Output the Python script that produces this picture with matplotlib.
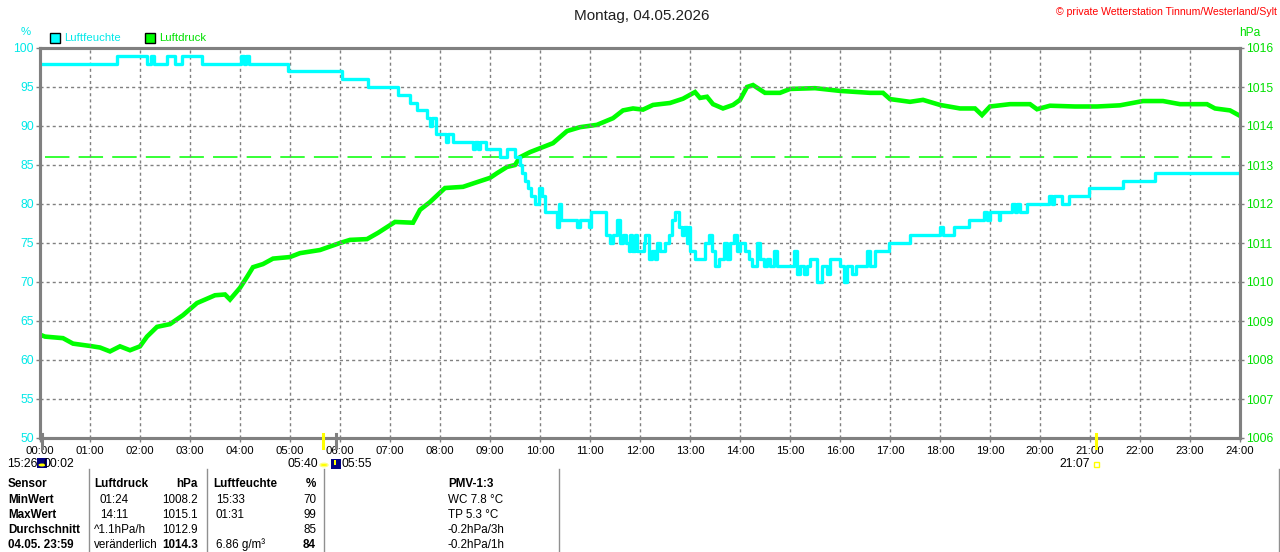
import matplotlib
matplotlib.use("Agg")
import matplotlib.pyplot as plt
from matplotlib.patches import Rectangle, Circle
import matplotlib.transforms as mtransforms

W, H = 1280, 552
plt.rcParams['font.family'] = ['Liberation Sans', 'DejaVu Sans']

# ---------------- data ----------------
hour_labels = [f"{h:02d}:00" for h in range(25)]
hum_ticks = [50, 55, 60, 65, 70, 75, 80, 85, 90, 95, 100]
hpa_ticks = [1006, 1007, 1008, 1009, 1010, 1011, 1012, 1013, 1014, 1015, 1016]

humidity_hours = [0.00, 1.54, 2.14, 2.22, 2.28, 2.54, 2.70, 2.84, 3.24, 4.02, 4.08, 4.12, 4.18,
                  4.96, 6.04, 6.56, 7.16, 7.40, 7.54, 7.74, 7.80, 7.84, 7.92, 8.12, 8.16, 8.26,
                  8.66, 8.70, 8.76, 8.80, 8.92, 9.20, 9.34, 9.50, 9.60, 9.64, 9.70, 9.76, 9.82,
                  9.90, 9.98, 10.03, 10.10, 10.34, 10.37, 10.42, 10.74, 10.80, 10.98, 11.02,
                  11.32, 11.40, 11.46, 11.54, 11.60, 11.66, 11.72, 11.78, 11.80, 11.83, 11.90,
                  11.93, 12.07, 12.10, 12.17, 12.23, 12.30, 12.33, 12.40, 12.50, 12.57, 12.63,
                  12.70, 12.77, 12.83, 12.87, 12.93, 12.97, 13.00, 13.10, 13.30, 13.37, 13.43,
                  13.50, 13.57, 13.67, 13.73, 13.80, 13.87, 13.93, 14.00, 14.10, 14.17, 14.23,
                  14.33, 14.40, 14.47, 14.53, 14.60, 14.67, 14.73, 15.07, 15.13, 15.20, 15.27,
                  15.33, 15.40, 15.53, 15.63, 15.73, 15.80, 16.00, 16.07, 16.13, 16.23, 16.33,
                  16.53, 16.60, 16.70, 16.97, 17.40, 18.00, 18.05, 18.27, 18.57, 18.87, 18.93,
                  19.00, 19.17, 19.20, 19.43, 19.50, 19.53, 19.60, 19.73, 20.17, 20.23, 20.27,
                  20.43, 20.57, 20.97, 21.65, 22.30, 24.00]
humidity_pct = [98, 99, 98, 99, 98, 99, 98, 99, 98, 99, 98, 99, 98,
                97, 96, 95, 94, 93, 92, 91, 90, 91, 89, 88, 89, 88,
                87, 88, 87, 88, 87, 86, 87, 86, 85, 84, 83, 82, 81,
                80, 82, 81, 79, 77, 80, 78, 77, 78, 77, 79,
                76, 75, 76, 78, 75, 76, 75, 74, 76, 74, 76,
                74, 75, 76, 73, 74, 73, 75, 74, 75, 76, 78,
                79, 77, 76, 77, 75, 77, 74, 73, 75, 76, 74,
                72, 73, 75, 73, 75, 76, 74, 75, 74, 73, 72,
                75, 73, 72, 73, 72, 74, 72, 74, 71, 72, 71,
                72, 73, 70, 72, 71, 73, 72, 70, 72, 71, 72,
                74, 72, 74, 75, 76, 77, 76, 77, 78, 79, 78,
                79, 78, 79, 80, 79, 80, 79, 80, 81, 80, 81,
                80, 81, 82, 83, 84, 84]

pressure_hours = [0.0, 0.1, 0.46, 0.66, 1.0, 1.2, 1.4, 1.6, 1.8, 2.0, 2.14, 2.34, 2.6, 2.86,
                  3.14, 3.5, 3.7, 3.8, 4.0, 4.14, 4.26, 4.46, 4.66, 5.0, 5.2, 5.6, 6.0, 6.2,
                  6.54, 6.76, 7.1, 7.46, 7.6, 7.8, 8.1, 8.46, 8.74, 9.0, 9.14, 9.34, 9.5, 9.6,
                  9.8, 10.0, 10.26, 10.54, 10.8, 11.14, 11.46, 11.66, 11.86, 12.06, 12.26,
                  12.6, 12.86, 13.1, 13.2, 13.34, 13.46, 13.66, 13.86, 14.0, 14.14, 14.26,
                  14.5, 14.8, 15.0, 15.5, 16.0, 16.6, 16.86, 17.0, 17.4, 17.66, 18.0, 18.4,
                  18.7, 18.84, 19.0, 19.4, 19.8, 19.94, 20.2, 20.7, 21.14, 21.6, 22.06,
                  22.46, 22.8, 23.34, 23.5, 23.8, 24.0]
pressure_hpa = [1008.65, 1008.6, 1008.56, 1008.42, 1008.36, 1008.32, 1008.22, 1008.35, 1008.25,
                1008.35, 1008.6, 1008.85, 1008.92, 1009.15, 1009.46, 1009.66, 1009.68, 1009.55,
                1009.85, 1010.13, 1010.38, 1010.46, 1010.6, 1010.64, 1010.74, 1010.82, 1011.0,
                1011.08, 1011.1, 1011.26, 1011.54, 1011.52, 1011.85, 1012.05, 1012.41, 1012.44,
                1012.56, 1012.67, 1012.79, 1012.95, 1013.0, 1013.2, 1013.33, 1013.43, 1013.56,
                1013.87, 1013.97, 1014.03, 1014.2, 1014.4, 1014.45, 1014.42, 1014.54, 1014.59,
                1014.7, 1014.87, 1014.72, 1014.75, 1014.56, 1014.45, 1014.54, 1014.67, 1015.0,
                1015.05, 1014.85, 1014.85, 1014.95, 1014.97, 1014.9, 1014.85, 1014.85, 1014.69,
                1014.62, 1014.67, 1014.54, 1014.45, 1014.45, 1014.28, 1014.5, 1014.56, 1014.56,
                1014.43, 1014.52, 1014.5, 1014.5, 1014.53, 1014.64, 1014.64, 1014.56, 1014.56,
                1014.45, 1014.4, 1014.26]
avg_line_hpa = 1013.2

sun_marks = [5 + 40 / 60, 21 + 7 / 60]      # yellow markers
moon_marks = [0 + 2 / 60, 5 + 55 / 60]      # gray markers

title = "Montag, 04.05.2026"
copyright_text = "\u00a9 private Wetterstation Tinnum/Westerland/Sylt"

table_rows = [
    ["Sensor", "Luftdruck", "hPa", "Luftfeuchte", "%", "PMV-1:3"],
    ["MinWert", "01:24", "1008.2", "15:33", "70", "WC 7.8 \u00b0C"],
    ["MaxWert", "14:11", "1015.1", "01:31", "99", "TP 5.3 \u00b0C"],
    ["Durchschnitt", "^1.1hPa/h", "1012.9", "", "85", "-0.2hPa/3h"],
    ["04.05. 23:59", "ver\u00e4nderlich", "1014.3", "6.86 g/m\u00b3", "84", "-0.2hPa/1h"],
]

# ---------------- style ----------------
CYAN = "#00ffff"
GREEN = "#00ff00"
GREEN_TXT = "#00e000"
GRAY = "#808080"
FS = 8.2


def P(x, y):
    return (x / W, 1 - y / H)


fig = plt.figure(figsize=(W / 100, H / 100), dpi=100)
fig.patch.set_facecolor("white")

ax = fig.add_axes([40 / W, 1 - 438 / H, 1200 / W, 390 / H])
ax2 = ax.twinx()
ax.set_zorder(ax2.get_zorder() + 1)
ax.patch.set_visible(False)

ax.set_xlim(0, 24)
ax.set_ylim(50, 100)
ax2.set_ylim(1006, 1016)

# grid
for v in hum_ticks[1:-1]:
    ax.axhline(v, color=GRAY, lw=1, ls=(0, (2.2, 2.2)), zorder=0)
for h in range(1, 24):
    ax.axvline(h, color=GRAY, lw=1, ls=(0, (2.2, 2.2)), zorder=0)

# data
ax2.axhline(avg_line_hpa, xmin=0.004, xmax=0.992, color=GREEN, lw=1.1, ls=(0, (16, 6)))
ax2.plot(pressure_hours, pressure_hpa, color=GREEN, lw=3.3, solid_joinstyle="miter")
ax.plot(humidity_hours, humidity_pct, color=CYAN, lw=2.4, drawstyle="steps-post")

# spines
for a in (ax, ax2):
    for s in a.spines.values():
        s.set_color(GRAY)
        s.set_linewidth(2.2)

ax.set_xticks(range(25))
ax.set_xticklabels(hour_labels)
ax.set_yticks(hum_ticks)
ax.set_yticklabels([str(v) for v in hum_ticks])
ax2.set_yticks(hpa_ticks)
ax2.set_yticklabels([str(v) for v in hpa_ticks])
ax.tick_params(axis="x", colors=GRAY, labelcolor="black", labelsize=FS, length=3, width=1, pad=3)
ax.tick_params(axis="y", colors=GRAY, labelcolor="#00e8e8", labelsize=FS + 0.6, length=3, width=1, pad=1.5)
ax2.tick_params(axis="y", colors=GRAY, labelcolor=GREEN_TXT, labelsize=FS + 0.6, length=3, width=1, pad=1.5)
ax2.tick_params(axis="x", length=0)

# markers below the axis
trans = mtransforms.blended_transform_factory(ax.transData, ax.transAxes)
for t in sun_marks:
    ax.plot([t, t], [-0.025, 0.01], color="#ffff00", lw=2.2, transform=trans, clip_on=False, zorder=5)
for t in moon_marks:
    ax.plot([t, t], [-0.025, 0.01], color=GRAY, lw=2.2, transform=trans, clip_on=False, zorder=5)

# title and headings
fig.text(*P(642, 16), title, ha="center", va="center", fontsize=11, color="#202020")
fig.text(*P(1277, 12), copyright_text, ha="right", va="center", fontsize=7.6, color="#ff0000")
fig.text(*P(26, 32), "%", ha="center", va="center", fontsize=FS, color="#00e8e8")
fig.text(*P(1250, 33), "hPa", ha="center", va="center", fontsize=FS + 0.4, color=GREEN_TXT)

# legend
for (x0, col, lab) in [(50, CYAN, "Luftfeuchte"), (145, GREEN, "Luftdruck")]:
    fig.add_artist(Rectangle(P(x0, 43), 10 / W, 10 / H, transform=fig.transFigure,
                             facecolor=col, edgecolor="black", lw=1))
    fig.text(*P(x0 + 14, 38), lab, ha="left", va="center", fontsize=FS,
             color=("#00e8e8" if col == CYAN else GREEN_TXT))

# event labels below the axis
fig.text(*P(38, 464), "15:26", ha="right", va="center", fontsize=FS + 0.6, color="black")
fig.add_artist(Rectangle(P(37, 468), 10 / W, 10 / H, transform=fig.transFigure,
                         facecolor="#000080", edgecolor="none"))
fig.add_artist(Circle(P(42, 465), 3.5 / W, transform=fig.transFigure, facecolor="#ffff00", edgecolor="none"))
fig.text(*P(44, 464), "00:02", ha="left", va="center", fontsize=FS + 0.6, color="black")
fig.text(*P(318, 464), "05:40", ha="right", va="center", fontsize=FS + 0.6, color="black")
fig.add_artist(Circle(P(324, 465), 4 / W, transform=fig.transFigure, facecolor="#ffff00", edgecolor="#ffff80"))
fig.add_artist(Rectangle(P(331, 469), 10 / W, 10 / H, transform=fig.transFigure,
                         facecolor="#000080", edgecolor="none"))
fig.add_artist(Rectangle(P(334, 465), 2 / W, 5 / H, transform=fig.transFigure,
                         facecolor="#ffff00", edgecolor="none"))
fig.text(*P(342, 464), "05:55", ha="left", va="center", fontsize=FS + 0.6, color="black")
fig.text(*P(1090, 464), "21:07", ha="right", va="center", fontsize=FS + 0.6, color="black")
fig.add_artist(Rectangle(P(1094, 467), 5 / W, 5 / H, transform=fig.transFigure,
                         facecolor="none", edgecolor="#ffff00", lw=1))

# table
for xl in [89, 207, 324, 559, 1279]:
    fig.add_artist(plt.Line2D([xl / W, xl / W], [1 - 469 / H, 0], transform=fig.transFigure,
                              color="#909090", lw=1))
row_y = [484, 500, 515, 530, 545]
col_spec = [(8, "left"), (94, "left"), (198, "right"), (213, "left"), (316, "right"), (448, "left")]
for r, row in enumerate(table_rows):
    for c, txt in enumerate(row):
        if not txt:
            continue
        x, ha = col_spec[c]
        if r > 0 and c in (1, 3):
            x = x + (6 if c == 1 else 3)
            if r == 3 or r == 4:
                x = col_spec[c][0] + (0 if c == 1 else 3)
        bold = (r == 0) or (c == 0) or (r == 4 and c in (2, 4))
        fig.text(*P(x, row_y[r]), txt, ha=ha, va="center", fontsize=FS + 0.2,
                 fontweight="bold" if bold else "normal", color="black")

fig.savefig("out.png", dpi=100)
